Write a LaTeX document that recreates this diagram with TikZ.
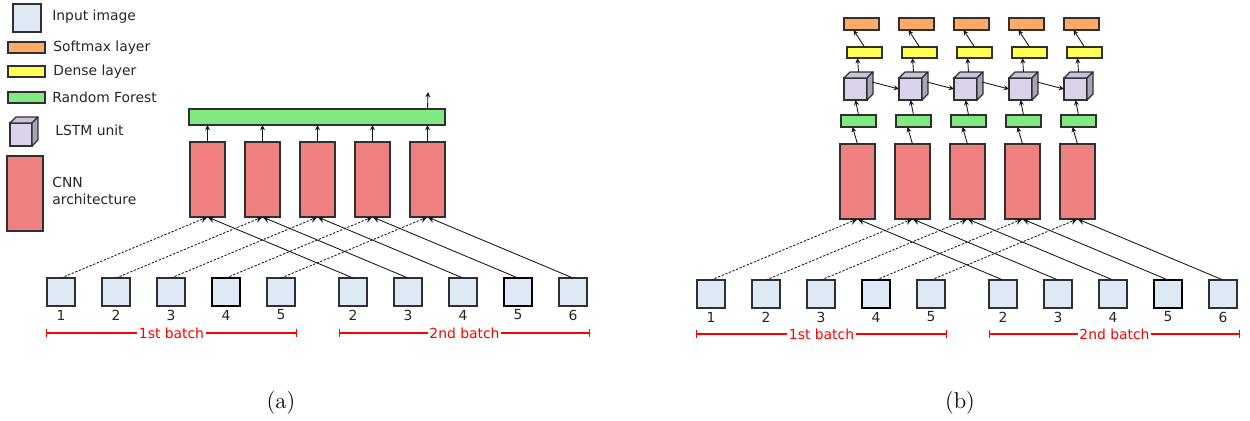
\documentclass[tikz,border=0pt]{standalone}
\usepackage{fontspec}
\newfontfamily\dvs{DejaVu Sans}
\usetikzlibrary{arrows.meta,calc}
\definecolor{inblue}{HTML}{DDEAF6}
\definecolor{cnnred}{HTML}{F08080}
\definecolor{rfgreen}{HTML}{80EA80}
\definecolor{dnyellow}{HTML}{FFFF55}
\definecolor{smorange}{HTML}{FFAA66}
\definecolor{lstmface}{HTML}{D9D2E9}
\definecolor{lstmside}{HTML}{A9A3B8}
\definecolor{lstmtop}{HTML}{C9C2DB}
\definecolor{edgegray}{HTML}{303030}
\tikzset{
  lbl/.style={font=\dvs\fontsize{7.9}{9.7}\selectfont, text=black!85, inner sep=0pt},
  box/.style={draw=edgegray, line width=0.7pt, inner sep=0pt, outer sep=0pt},
  inimg/.style={box, fill=inblue, minimum width=0.56cm, minimum height=0.56cm},
  inimgdark/.style={inimg, draw=black, line width=0.9pt},
  cnn/.style={box, fill=cnnred, minimum width=0.7cm, minimum height=1.5cm},
  rfsmall/.style={box, fill=rfgreen, minimum width=0.7cm, minimum height=0.24cm},
  dense/.style={box, fill=dnyellow, minimum width=0.7cm, minimum height=0.22cm},
  softmax/.style={box, fill=smorange, minimum width=0.7cm, minimum height=0.24cm},
  legbar/.style={box, minimum width=0.74cm, minimum height=0.22cm},
  lstmfront/.style={box, fill=lstmface, minimum width=0.46cm, minimum height=0.44cm},
  cubeface/.style={draw=edgegray, line width=0.7pt, line join=round},
  link/.style={-{Stealth[length=4pt,width=3.6pt]}, line width=0.5pt, draw=black!90},
  dotlink/.style={link, dash pattern=on 1.3pt off 0.9pt},
  uplink/.style={-{Stealth[length=3pt,width=2.8pt]}, line width=0.5pt, draw=black!90},
  batch/.style={red, line width=0.8pt, {Bar[width=5pt]-Bar[width=5pt]}},
  batchlbl/.style={lbl, text=red, fill=white, inner xsep=1pt},
  caption/.style={font=\fontsize{13}{15}\selectfont, inner sep=0pt},
}
\newcommand\lstmcube[4]{% name, x, y, style
  \node[lstmfront,#4] (#1) at (#2,#3) {};
  \draw[cubeface, fill=lstmtop] (#1.north west) -- ++(6,-6) -- ($(#1.north east)+(6,-6)$) -- (#1.north east) -- cycle;
  \draw[cubeface, fill=lstmside] (#1.north east) -- ++(6,-6) -- ($(#1.south east)+(6,-6)$) -- (#1.south east) -- cycle;
}
\begin{document}
\begin{tikzpicture}[x=0.02cm,y=-0.02cm]
\useasboundingbox (0,0) rectangle (1250,420);

% ---------------- legend ----------------
\node[inimg] (lg_in) at (27,18) {};
\node[lbl, anchor=west] (lg_in_t) at (52,17) {Input image};
\node[legbar, fill=smorange] (lg_sm) at (26.5,47.5) {};
\node[lbl, anchor=west] (lg_sm_t) at (53,47.5) {Softmax layer};
\node[legbar, fill=dnyellow] (lg_dn) at (26.5,71.5) {};
\node[lbl, anchor=west] (lg_dn_t) at (53,72) {Dense layer};
\node[legbar, fill=rfgreen] (lg_rf) at (26.5,97.5) {};
\node[lbl, anchor=west] (lg_rf_t) at (52,97) {Random Forest};
\lstmcube{lg_lstm}{21}{134.5}{minimum width=0.44cm, minimum height=0.46cm}
\node[lbl, anchor=west] (lg_lstm_t) at (55,130) {LSTM unit};
\node[box, fill=cnnred, minimum width=0.72cm, minimum height=1.5cm] (lg_cnn) at (25,193.5) {};
\node[lbl, anchor=west, align=left] (lg_cnn_t) at (52,191) {CNN\\architecture};

% ---------------- (a) ----------------
\node[box, fill=rfgreen, minimum width=5.12cm, minimum height=0.32cm] (a_rf) at (317,117) {};
\coordinate (a_out) at (428,92);
\foreach \i in {1,...,5} {
  \node[cnn] (a_cnn\i) at ({207.5+55*(\i-1)},179.5) {};
  \draw[uplink] (a_cnn\i.north) -- (a_cnn\i.north |- a_rf.south);
}
\draw[uplink] (a_cnn5.north |- a_rf.north) -- (a_out);

\foreach \n [count=\i] in {1,2,3,4,5} {
  \ifnum\i=4
    \node[inimgdark] (a_in\i) at ({61+55*(\i-1)},292) {};
  \else
    \node[inimg] (a_in\i) at ({61+55*(\i-1)},292) {};
  \fi
  \node[lbl] (a_inl\i) at ({61+55*(\i-1)},315) {\n};
  \draw[dotlink] (a_in\i.north) -- (a_cnn\i.south);
}
\foreach \n [count=\i] in {2,3,4,5,6} {
  \ifnum\i=4
    \node[inimgdark] (a_jn\i) at ({353+55*(\i-1)},292) {};
  \else
    \node[inimg] (a_jn\i) at ({353+55*(\i-1)},292) {};
  \fi
  \node[lbl] (a_jnl\i) at ({353+55*(\i-1)},315) {\n};
  \draw[link] (a_jn\i.north) -- (a_cnn\i.south);
}
\coordinate (a_b1s) at (46,333); \coordinate (a_b1e) at (297,333);
\draw[batch] (a_b1s) -- (a_b1e) node[batchlbl, midway] {1st batch};
\coordinate (a_b2s) at (339,333); \coordinate (a_b2e) at (590,333);
\draw[batch] (a_b2s) -- (a_b2e) node[batchlbl, midway] {2nd batch};
\node[caption] (a_cap) at (281,403) {(a)};

% ---------------- (b) ----------------
\foreach \i in {1,...,5} {
  \node[cnn] (b_cnn\i) at ({857.5+55*(\i-1)},181.5) {};
  \node[rfsmall] (b_rf\i) at ({858.5+55*(\i-1)},121) {};
  \lstmcube{b_c\i}{{855.5+55*(\i-1)}}{89}{}
  \node[dense] (b_dn\i) at ({864.5+55*(\i-1)},52.5) {};
  \node[softmax] (b_sm\i) at ({861.5+55*(\i-1)},24) {};
  \draw[uplink] (b_cnn\i.north) -- ($(b_rf\i.south)+(-6,0)$);
  \draw[uplink] (b_rf\i.north) -- (b_c\i.south);
  \draw[uplink] ($(b_c\i.north)+(3,-6)$) -- ($(b_dn\i.south)+(-7,0)$);
  \draw[uplink] (b_dn\i.north) -- ($(b_sm\i.south)+(-8,0)$);
}
\foreach \i [evaluate=\i as \j using int(\i+1)] in {1,...,4} {
  \draw[uplink] ($(b_c\i.east)+(5,-7)$) -- (b_c\j.west);
}
\foreach \n [count=\i] in {1,2,3,4,5} {
  \ifnum\i=4
    \node[inimgdark] (b_in\i) at ({711+55*(\i-1)},294) {};
  \else
    \node[inimg] (b_in\i) at ({711+55*(\i-1)},294) {};
  \fi
  \node[lbl] (b_inl\i) at ({711+55*(\i-1)},317) {\n};
  \draw[dotlink] (b_in\i.north) -- (b_cnn\i.south);
}
\foreach \n [count=\i] in {2,3,4,5,6} {
  \ifnum\i=4
    \node[inimgdark] (b_jn\i) at ({1003+55*(\i-1)},294) {};
  \else
    \node[inimg] (b_jn\i) at ({1003+55*(\i-1)},294) {};
  \fi
  \node[lbl] (b_jnl\i) at ({1003+55*(\i-1)},317) {\n};
  \draw[link] (b_jn\i.north) -- (b_cnn\i.south);
}
\coordinate (b_b1s) at (696,334); \coordinate (b_b1e) at (947,334);
\draw[batch] (b_b1s) -- (b_b1e) node[batchlbl, midway] {1st batch};
\coordinate (b_b2s) at (989,334); \coordinate (b_b2e) at (1240,334);
\draw[batch] (b_b2s) -- (b_b2e) node[batchlbl, midway] {2nd batch};
\node[caption] (b_cap) at (960,403) {(b)};
\end{tikzpicture}
\end{document}
